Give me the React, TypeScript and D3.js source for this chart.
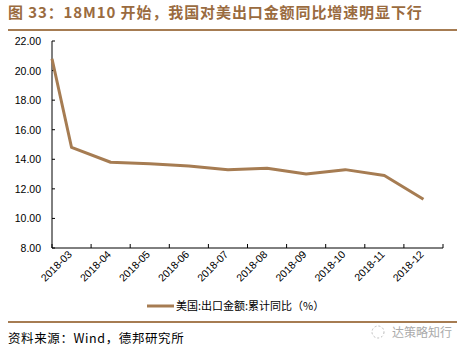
import React from "react";
import * as d3 from "d3";

const categories = ["2018-03","2018-04","2018-05","2018-06","2018-07","2018-08","2018-09","2018-10","2018-11","2018-12"];
const values = [14.8, 13.8, 13.7, 13.55, 13.3, 13.4, 13.0, 13.3, 12.9, 11.3];
const startValue = 20.8; // 2018-02, drawn at the axis origin
const yTicks = [8, 10, 12, 14, 16, 18, 20, 22];
const titleText = "图 33：18M10 开始，我国对美出口金额同比增速明显下行";
const legendText = "美国:出口金额:累计同比（%）";
const sourceText = "资料来源：Wind，德邦研究所";
const watermarkText = "达策略知行";

const W = 461, H = 351;
const left = 52, right = 443, top = 41, bottom = 248;
const lineColor = "#a67c52";
const titleColor = "#9a6b3f";

export default function App() {
  const x = d3.scaleBand<string>().domain(categories).range([left, right]);
  const y = d3.scaleLinear().domain([8, 22]).range([bottom, top]);
  const pts: [number, number][] = [[left, y(startValue)]];
  categories.forEach((c, i) => pts.push([(x(c) as number) + x.bandwidth() / 2, y(values[i])]));
  const line = d3.line();
  const boundaries = categories.map((c) => x(c) as number).concat([right]);
  return (
    <svg width={W} height={H} style={{ position: "absolute", left: 0, top: 0, background: "#fff" }}
      fontFamily="Arial, 'Liberation Sans', sans-serif">
      <rect width={W} height={H} fill="#fff" />
      <text x={8} y={18} fontSize={15} fontWeight="bold" fill={titleColor} letterSpacing={0.9}
        fontFamily="'Noto Sans CJK SC', Arial, sans-serif">{titleText}</text>
      <line x1={8} x2={457} y1={30} y2={30} stroke={lineColor} strokeWidth={2} />
      {/* y axis */}
      <line x1={left} x2={left} y1={top} y2={bottom} stroke="#000" strokeWidth={1} />
      {yTicks.map((t) => (
        <g key={t}>
          <line x1={left} x2={left + 3} y1={y(t)} y2={y(t)} stroke="#000" />
          <text x={41} y={y(t) + 4} fontSize={10.5} textAnchor="end" fill="#000">{t.toFixed(2)}</text>
        </g>
      ))}
      {/* x axis */}
      <line x1={left} x2={right} y1={bottom} y2={bottom} stroke="#000" />
      {boundaries.map((b, i) => (
        <line key={i} x1={b} x2={b} y1={bottom} y2={bottom - 4} stroke="#000" />
      ))}
      {categories.map((c) => {
        const cx = (x(c) as number) + x.bandwidth() / 2;
        return (
          <text key={c} transform={`translate(${cx + 1},${bottom + 7}) rotate(-45)`} fontSize={10.5}
            textAnchor="end" fill="#000">{c}</text>
        );
      })}
      <path d={line(pts) || ""} fill="none" stroke={lineColor} strokeWidth={3} strokeLinejoin="round" />
      {/* legend */}
      <line x1={147} x2={174} y1={306} y2={306} stroke={lineColor} strokeWidth={3} />
      <text x={176} y={310} fontSize={11} fill="#000"
        fontFamily="'Noto Sans CJK SC', sans-serif">{legendText}</text>
      <line x1={8} x2={457} y1={322} y2={322} stroke={lineColor} strokeWidth={2} />
      <text x={8} y={343} fontSize={12.5} fill="#000" letterSpacing={0.6}
        fontFamily="'Noto Sans CJK SC', sans-serif">{sourceText}</text>
      <circle cx={378} cy={332} r={6} fill="none" stroke="#bbb" strokeWidth={1} strokeDasharray="2 2" />
      <text x={392} y={337} fontSize={12} fill="#aaa"
        fontFamily="'Noto Sans CJK SC', sans-serif">{watermarkText}</text>
    </svg>
  );
}
